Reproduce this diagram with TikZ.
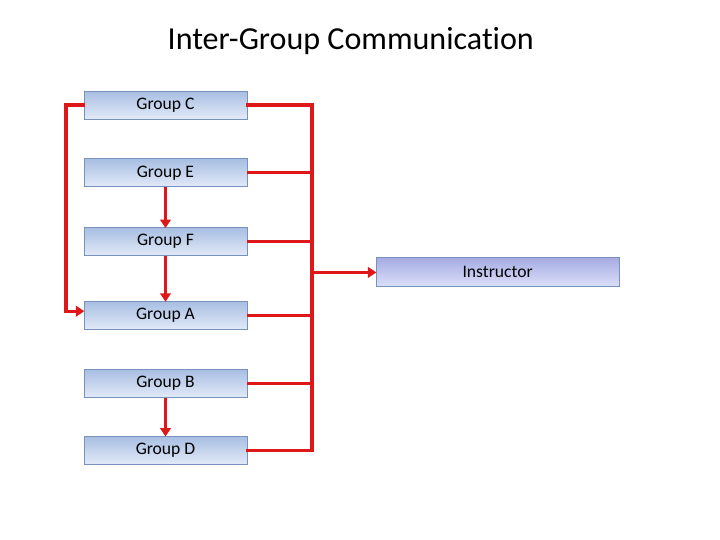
\documentclass[tikz,border=0pt]{standalone}
\usepackage{fontspec}
\setmainfont[RawFeature={-liga}]{Carlito}
\usepackage{tikz}
\usetikzlibrary{arrows.meta, positioning}
\definecolor{linkred}{RGB}{222,24,24}
\definecolor{boxedge}{RGB}{120,146,190}
\definecolor{grouptop}{RGB}{168,190,226}
\definecolor{groupbot}{RGB}{226,234,248}
\definecolor{insttop}{RGB}{166,172,226}
\definecolor{instbot}{RGB}{220,224,250}

\begin{document}
\begin{tikzpicture}[font=\fontsize{12.5}{15}\selectfont, node distance=0.975cm,
    groupbox/.style={rectangle, draw=boxedge, line width=0.6pt,
      top color=grouptop, bottom color=groupbot,
      minimum width=4.075cm, minimum height=0.7cm, inner sep=0pt},
    instbox/.style={rectangle, draw=boxedge, line width=0.6pt,
      top color=insttop, bottom color=instbot,
      minimum width=6.075cm, minimum height=0.725cm, inner sep=0pt},
    link/.style={draw=linkred, line width=2.2pt},
    arrowlink/.style={link, -{Triangle[width=7.5pt,length=6pt]}, shorten >=-0.5pt}]
  \useasboundingbox (0,0) rectangle (18,-13.5);

  \node (title) at (8.77,-1.02) {\fontsize{22.8}{26}\selectfont Inter-Group Communication};

  % group column
  \node[groupbox] (grpC) at (4.1375,-2.625) {Group C};
  \node[groupbox, below=of grpC] (grpE) {Group E};
  \node[groupbox, below=1.0cm of grpE] (grpF) {Group F};
  \node[groupbox, below=1.125cm of grpF] (grpA) {Group A};
  \node[groupbox, below=of grpA] (grpB) {Group B};
  \node[groupbox, below=0.95cm of grpB] (grpD) {Group D};

  \node[instbox] (instr) at (12.44,-6.81) {Instructor};

  % trunk on the right
  \coordinate (trunkTop) at (7.8,0 |- grpC.east);
  \coordinate (trunkBot) at (7.8,0 |- grpD.east);
  \coordinate (trunkMid) at (7.8,0 |- instr.west);
  \draw[link, line cap=rect] (grpC.east) -- (trunkTop) -- (trunkBot) -- (grpD.east);
  \foreach \g in {grpE, grpF, grpA, grpB}
    \draw[link] (\g.east) -- (7.8,0 |- \g.east);
  \draw[arrowlink] (trunkMid) -- (instr.west);

  % loop on the left
  \coordinate (loopTop) at (1.65,0 |- grpC.west);
  \coordinate (loopBot) at (1.65,-7.78);
  \draw[arrowlink, line cap=rect] (grpC.west) -- (loopTop) -- (loopBot) -- (grpA.west |- loopBot);

  % downward links
  \draw[arrowlink] (grpE.south) -- (grpF.north);
  \draw[arrowlink] (grpF.south) -- (grpA.north);
  \draw[arrowlink] (grpB.south) -- (grpD.north);
\end{tikzpicture}
\end{document}
